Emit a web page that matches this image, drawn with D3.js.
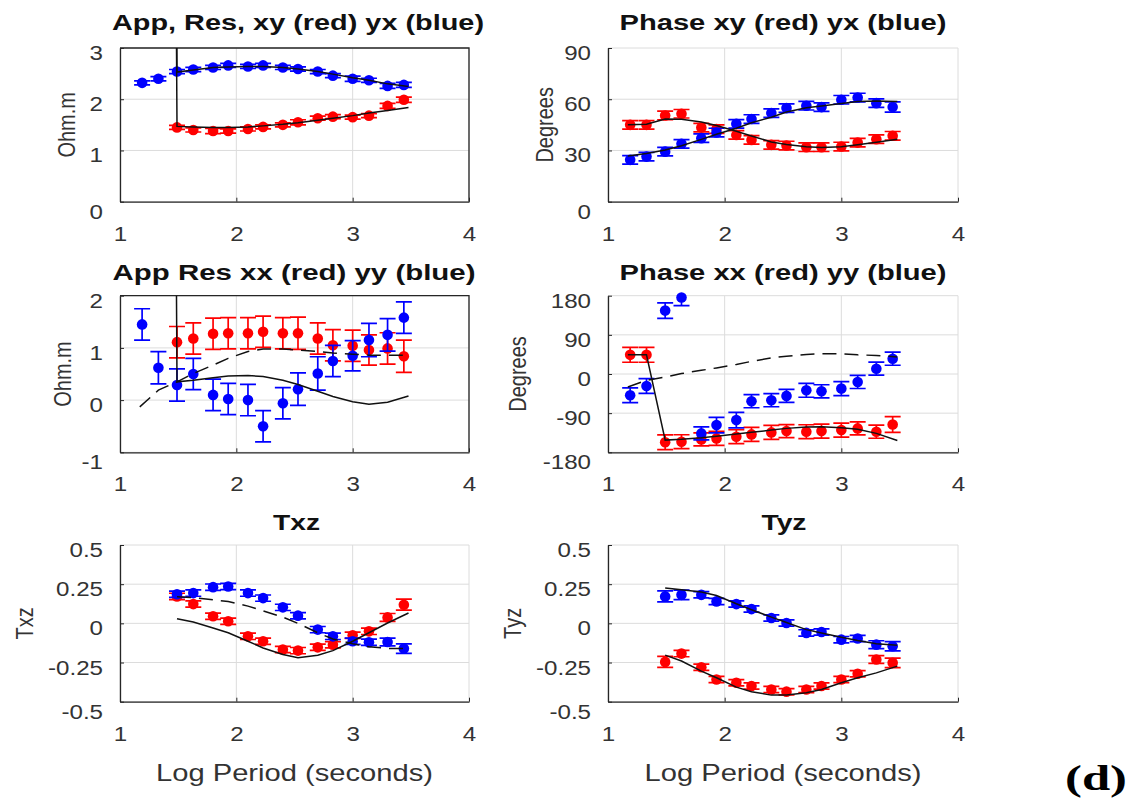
<!DOCTYPE html>
<html>
<head>
<meta charset="utf-8">
<script src="https://cdn.jsdelivr.net/npm/d3@7"></script>
<style>
  body { margin: 0; background: #fff; }
  svg { display: block; }
</style>
</head>
<body>
<svg id="fig" width="1129" height="804"></svg>
<script>
// ---- data ---------------------------------------------------------------
// log10 period (s) of the measured responses
const logPeriod   = [1.19, 1.33, 1.49, 1.63, 1.80, 1.93, 2.10, 2.23, 2.40, 2.53, 2.70, 2.83, 3.00, 3.14, 3.30, 3.44];
// log10 period (s) of the model response curves
const modelPeriod = [1.17, 1.33, 1.49, 1.63, 1.80, 1.93, 2.10, 2.23, 2.40, 2.53, 2.70, 2.83, 3.00, 3.14, 3.30, 3.48];

const xTicks = [1, 2, 3, 4];

// apparent resistivity, off-diagonal (log10 ohm.m)
const rhoXY    = [null, null, 1.45, 1.40, 1.38, 1.38, 1.42, 1.46, 1.50, 1.55, 1.63, 1.66, 1.65, 1.68, 1.87, 1.99];
const rhoXYErr = [null, null, 0.04, 0.04, 0.05, 0.04, 0.04, 0.04, 0.04, 0.05, 0.04, 0.04, 0.04, 0.04, 0.05, 0.05];
const rhoYX    = [2.32, 2.40, 2.54, 2.58, 2.62, 2.66, 2.64, 2.66, 2.62, 2.59, 2.54, 2.46, 2.40, 2.37, 2.26, 2.28];
const rhoYXErr = [0.04, 0.04, 0.04, 0.04, 0.04, 0.04, 0.04, 0.04, 0.04, 0.04, 0.04, 0.04, 0.05, 0.04, 0.05, 0.05];
const rhoXYModel = [60, 60, 1.47, 1.46, 1.45, 1.45, 1.46, 1.48, 1.51, 1.54, 1.59, 1.63, 1.68, 1.73, 1.78, 1.84];
const rhoYXModel = [60, 60, 2.53, 2.57, 2.62, 2.63, 2.64, 2.64, 2.62, 2.59, 2.54, 2.49, 2.42, 2.37, 2.30, 2.25];

// phase, off-diagonal (degrees)
const phiXY    = [45.0, 45.0, 50.5, 51.5, 43.4, 42.5, 39.1, 36.2, 33.3, 32.9, 31.9, 31.9, 32.3, 34.6, 36.6, 38.6];
const phiXYErr = [2.5, 2.5, 2.5, 2.5, 2.5, 2.5, 2.5, 2.5, 2.5, 2.5, 2.5, 2.5, 2.5, 2.5, 2.5, 2.5];
const phiYX    = [24.5, 26.4, 29.3, 33.9, 37.2, 40.5, 45.6, 48.4, 51.9, 54.8, 56.2, 55.4, 59.7, 61.0, 57.7, 55.4];
const phiYXErr = [2.5, 2.5, 2.5, 2.5, 2.5, 2.5, 2.5, 2.5, 2.5, 2.5, 2.5, 2.5, 2.5, 2.5, 2.5, 3.0];
const phiXYModel = [45.0, 45.3, 48.4, 48.3, 46.7, 44.6, 41.2, 38.5, 35.0, 33.5, 32.2, 31.7, 32.2, 33.3, 34.8, 36.6];
const phiYXModel = [26.8, 28.2, 30.3, 32.8, 36.5, 39.5, 43.0, 46.2, 49.5, 52.5, 55.0, 56.0, 57.5, 58.7, 59.0, 58.7];

// apparent resistivity, diagonal (log10 ohm.m)
const rhoXX    = [null, null, 1.11, 1.18, 1.27, 1.28, 1.28, 1.31, 1.28, 1.28, 1.18, 1.05, 1.04, 0.96, 0.99, 0.84];
const rhoXXErr = [null, null, 0.30, 0.30, 0.30, 0.30, 0.30, 0.30, 0.30, 0.31, 0.30, 0.30, 0.30, 0.29, 0.30, 0.31];
const rhoYY    = [1.45, 0.62, 0.29, 0.50, 0.10, 0.02, 0.00, -0.50, -0.06, 0.21, 0.51, 0.75, 0.85, 1.15, 1.25, 1.58];
const rhoYYErr = [0.30, 0.31, 0.31, 0.30, 0.30, 0.30, 0.30, 0.30, 0.30, 0.31, 0.32, 0.30, 0.29, 0.32, 0.31, 0.30];
const rhoXXModel = [60, 60, 0.35, 0.38, 0.43, 0.46, 0.47, 0.45, 0.38, 0.30, 0.17, 0.07, -0.03, -0.08, -0.04, 0.08];
const rhoYYModel = [-0.13, 0.19, 0.35, 0.51, 0.67, 0.80, 0.93, 0.98, 0.98, 0.96, 0.93, 0.90, 0.88, 0.86, 0.86, 0.86];

// phase, diagonal (degrees)
const phiXX    = [44, 44, -157, -155.6, -150.3, -148, -144.2, -138.8, -134.3, -131.2, -132.7, -131.2, -128.9, -125.1, -132.7, -116];
const phiXXErr = [17, 17, 17, 16, 15, 16, 16, 16, 16, 15, 16, 16, 16, 15, 15, 18];
const phiYY    = [-48.8, -27.5, 145.7, 176, -136.6, -117.5, -106, -62.6, -60.3, -50.4, -37.4, -39.7, -33.6, -18.3, 12.2, 35.1];
const phiYYErr = [17, 17, 18, 19, 15, 18, 18, 15, 15, 15, 16, 15, 16, 15, 15, 15];
const phiXXModel = [44, 44, -152, -150, -146.5, -143, -138, -134, -129, -125, -122, -121, -123.5, -127, -136.5, -153];
const phiYYModel = [-30, -14.5, -7, 1, 8.5, 14, 22, 29, 37, 41, 45, 46.5, 46.5, 44, 42.7, 39];

// tipper Txz
const txzRed     = [null, null, 0.172, 0.123, 0.045, 0.013, -0.083, -0.114, -0.167, -0.174, -0.153, -0.136, -0.076, -0.051, 0.038, 0.119];
const txzRedErr  = [null, null, 0.02, 0.02, 0.02, 0.02, 0.02, 0.02, 0.02, 0.02, 0.02, 0.02, 0.02, 0.02, 0.025, 0.035];
const txzBlue    = [null, null, 0.186, 0.193, 0.231, 0.235, 0.193, 0.161, 0.102, 0.049, -0.040, -0.083, -0.114, -0.121, -0.119, -0.161];
const txzBlueErr = [null, null, 0.02, 0.02, 0.02, 0.02, 0.02, 0.02, 0.02, 0.02, 0.02, 0.02, 0.02, 0.02, 0.025, 0.03];
const txzRedModel  = [null, null, 0.03, 0.008, -0.03, -0.06, -0.114, -0.157, -0.199, -0.22, -0.203, -0.174, -0.114, -0.06, 0.002, 0.066];
const txzBlueModel = [null, null, 0.17, 0.165, 0.15, 0.14, 0.11, 0.08, 0.04, 0.0, -0.06, -0.10, -0.13, -0.15, -0.16, -0.16];

// tipper Tyz
const tyzRed     = [null, null, -0.246, -0.193, -0.280, -0.358, -0.379, -0.400, -0.422, -0.436, -0.422, -0.400, -0.358, -0.322, -0.231, -0.252];
const tyzRedErr  = [null, null, 0.035, 0.02, 0.02, 0.02, 0.02, 0.02, 0.02, 0.02, 0.02, 0.02, 0.02, 0.02, 0.025, 0.03];
const tyzBlue    = [null, null, 0.172, 0.182, 0.182, 0.140, 0.123, 0.091, 0.034, 0.002, -0.061, -0.055, -0.104, -0.097, -0.136, -0.146];
const tyzBlueErr = [null, null, 0.035, 0.03, 0.02, 0.02, 0.02, 0.02, 0.02, 0.02, 0.02, 0.02, 0.02, 0.02, 0.025, 0.03];
const tyzRedModel  = [null, null, -0.203, -0.24, -0.305, -0.347, -0.407, -0.436, -0.458, -0.458, -0.443, -0.422, -0.379, -0.347, -0.316, -0.273];
const tyzBlueModel = [null, null, 0.225, 0.214, 0.2, 0.178, 0.125, 0.087, 0.04, 0.005, -0.04, -0.061, -0.089, -0.11, -0.13, -0.14];

// axis tick values and their labels
const rhoTicks  = [0, 1, 2, 3],            rhoTickLabels  = ["0", "1", "2", "3"];
const phiTicks  = [0, 30, 60, 90],         phiTickLabels  = ["0", "30", "60", "90"];
const rhoDTicks = [-1, 0, 1, 2],           rhoDTickLabels = ["-1", "0", "1", "2"];
const phiDTicks = [-180, -90, 0, 90, 180], phiDTickLabels = ["-180", "-90", "0", "90", "180"];
const tipTicks  = [-0.5, -0.25, 0, 0.25, 0.5], tipTickLabels = ["-0.5", "-0.25", "0", "0.25", "0.5"];

// ---- drawing ------------------------------------------------------------
const svg = d3.select("#fig");
svg.append("rect").attr("width", 1129).attr("height", 804).attr("fill", "#fff");

const FONT = "'Liberation Sans', Arial, Helvetica, sans-serif";
const SX = 1.15;            // horizontal widening of tick labels
const RED = "#ff0000", BLUE = "#0000ff";
const AXIS = "#262626", GRID = "#dcdcdc";

const cols = [{ left: 120, right: 469 }, { left: 608, right: 958 }];
const rows = [{ top: 48, bottom: 201.7 }, { top: 295.7, bottom: 452.3 }, { top: 545, bottom: 701.7 }];

const panels = [
  { col: 0, row: 0, title: "App, Res, xy (red) yx (blue)", titleW: 372, titleX: 298, titleY: 30,
    ylabel: "Ohm.m", ylabelX: 67, box: true, yDomain: [0, 3], yTicks: rhoTicks, yTickLabels: rhoTickLabels,
    red: [rhoXY, rhoXYErr], blue: [rhoYX, rhoYXErr],
    models: [{ v: rhoXYModel, dash: false }, { v: rhoYXModel, dash: false }] },
  { col: 1, row: 0, title: "Phase xy (red) yx (blue)", titleW: 327, titleX: 783, titleY: 30,
    ylabel: "Degrees", ylabelX: 545, box: false, yDomain: [0, 90], yTicks: phiTicks, yTickLabels: phiTickLabels,
    red: [phiXY, phiXYErr], blue: [phiYX, phiYXErr],
    models: [{ v: phiXYModel, dash: false }, { v: phiYXModel, dash: false }] },
  { col: 0, row: 1, title: "App Res xx (red) yy (blue)", titleW: 363, titleX: 294, titleY: 280,
    ylabel: "Ohm.m", ylabelX: 63, box: true, yDomain: [-1, 2], yTicks: rhoDTicks, yTickLabels: rhoDTickLabels,
    red: [rhoXX, rhoXXErr], blue: [rhoYY, rhoYYErr],
    models: [{ v: rhoXXModel, dash: false }, { v: rhoYYModel, dash: true }] },
  { col: 1, row: 1, title: "Phase xx (red) yy (blue)", titleW: 327, titleX: 783, titleY: 280,
    ylabel: "Degrees", ylabelX: 518, box: false, yDomain: [-180, 180], yTicks: phiDTicks, yTickLabels: phiDTickLabels,
    red: [phiXX, phiXXErr], blue: [phiYY, phiYYErr],
    models: [{ v: phiXXModel, dash: false }, { v: phiYYModel, dash: true }] },
  { col: 0, row: 2, title: "Txz", titleW: 47, titleX: 296.5, titleY: 530,
    ylabel: "Txz", ylabelX: 25, box: false, yDomain: [-0.5, 0.5], yTicks: tipTicks, yTickLabels: tipTickLabels,
    red: [txzRed, txzRedErr], blue: [txzBlue, txzBlueErr],
    models: [{ v: txzRedModel, dash: false }, { v: txzBlueModel, dash: true }] },
  { col: 1, row: 2, title: "Tyz", titleW: 45, titleX: 784, titleY: 530,
    ylabel: "Tyz", ylabelX: 513, box: false, yDomain: [-0.5, 0.5], yTicks: tipTicks, yTickLabels: tipTickLabels,
    red: [tyzRed, tyzRedErr], blue: [tyzBlue, tyzBlueErr],
    models: [{ v: tyzRedModel, dash: false }, { v: tyzBlueModel, dash: false }] }
];

panels.forEach((p, idx) => {
  const { left, right } = cols[p.col];
  const { top, bottom } = rows[p.row];
  const x = d3.scaleLinear().domain([1, 4]).range([left, right]);
  const y = d3.scaleLinear().domain(p.yDomain).range([bottom, top]);
  const g = svg.append("g");

  const clipId = "plot-clip-" + idx;
  svg.append("clipPath").attr("id", clipId).append("rect")
    .attr("x", left).attr("y", top).attr("width", right - left).attr("height", bottom - top);

  // grid lines
  g.append("g").selectAll("line").data(xTicks).join("line")
    .attr("x1", d => x(d)).attr("x2", d => x(d)).attr("y1", top).attr("y2", bottom)
    .attr("stroke", GRID).attr("stroke-width", 1);
  g.append("g").selectAll("line").data(p.yTicks).join("line")
    .attr("x1", left).attr("x2", right).attr("y1", d => y(d)).attr("y2", d => y(d))
    .attr("stroke", GRID).attr("stroke-width", 1);

  // closed box on some panels
  if (p.box) {
    g.append("path")
      .attr("d", `M${left},${top}H${right}V${bottom}`)
      .attr("fill", "none").attr("stroke", AXIS).attr("stroke-width", 1.3);
  }

  // x axis
  const xa = g.append("g").attr("transform", `translate(0,${bottom})`)
    .call(d3.axisBottom(x).tickValues(xTicks).tickFormat(d3.format("d")).tickSizeInner(-4).tickSizeOuter(0));
  xa.attr("font-family", FONT).attr("font-size", 21);
  xa.select(".domain").attr("stroke", AXIS).attr("stroke-width", 1.3);
  xa.selectAll(".tick line").attr("stroke", AXIS);
  xa.selectAll(".tick text").attr("y", 39).attr("dy", null)
    .attr("fill", "#333").attr("transform", `scale(${SX},1)`);

  // y axis
  const ya = g.append("g").attr("transform", `translate(${left},0)`)
    .call(d3.axisLeft(y).tickValues(p.yTicks).tickFormat((d, i) => p.yTickLabels[i]).tickSizeInner(-4).tickSizeOuter(0));
  ya.attr("font-family", FONT).attr("font-size", 21);
  ya.select(".domain").attr("stroke", AXIS).attr("stroke-width", 1.3);
  ya.selectAll(".tick line").attr("stroke", AXIS);
  ya.selectAll(".tick text").attr("x", -17 / SX).attr("dy", null)
    .attr("y", (d, i) => (i === 0 ? 16.5 : 11.5))
    .attr("fill", "#333").attr("transform", `scale(${SX},1)`);

  // data series: error bars and markers
  const cap = 8;
  [[p.red, RED], [p.blue, BLUE]].forEach(([[vals, errs], color]) => {
    const pts = vals.map((v, i) => ({ t: logPeriod[i], v, e: errs[i] })).filter(d => d.v != null);
    const eb = g.append("g").attr("clip-path", `url(#${clipId})`)
      .attr("stroke", color).attr("stroke-width", 1.7).attr("fill", "none");
    eb.selectAll("path").data(pts).join("path")
      .attr("d", d => {
        const cx = x(d.t), y1 = y(d.v + d.e), y2 = y(d.v - d.e);
        return `M${cx},${y1}V${y2}M${cx - cap},${y1}H${cx + cap}M${cx - cap},${y2}H${cx + cap}`;
      });
    g.append("g").selectAll("circle").data(pts).join("circle")
      .attr("cx", d => x(d.t)).attr("cy", d => y(d.v)).attr("r", 5.3).attr("fill", color);
  });

  // model response curves
  const line = d3.line()
    .defined(d => d[1] != null)
    .x(d => x(d[0])).y(d => y(d[1]));
  p.models.forEach(m => {
    g.append("path")
      .datum(modelPeriod.map((t, i) => [t, m.v[i]]))
      .attr("clip-path", `url(#${clipId})`)
      .attr("d", line)
      .attr("fill", "none").attr("stroke", "#111").attr("stroke-width", 1.5)
      .attr("stroke-dasharray", m.dash ? "14,8" : null);
  });

  // title
  g.append("text")
    .attr("x", p.titleX).attr("y", p.titleY)
    .attr("text-anchor", "middle")
    .attr("font-family", FONT).attr("font-weight", "bold").attr("font-size", 22)
    .attr("textLength", p.titleW).attr("lengthAdjust", "spacingAndGlyphs")
    .attr("fill", "#111")
    .text(p.title);

  // y-axis label (glyphs widened horizontally like the tick labels)
  g.append("text")
    .attr("transform", `translate(${p.ylabelX},${(top + bottom) / 2}) scale(1.2,1) rotate(-90)`)
    .attr("text-anchor", "middle").attr("dy", "0.35em")
    .attr("font-family", FONT).attr("font-size", 20).attr("fill", "#333")
    .text(p.ylabel);

  // x-axis label under the bottom row
  if (p.row === 2) {
    g.append("text")
      .attr("x", (left + right) / 2).attr("y", 781)
      .attr("text-anchor", "middle")
      .attr("font-family", FONT).attr("font-size", 24).attr("fill", "#333")
      .attr("textLength", 277).attr("lengthAdjust", "spacingAndGlyphs")
      .text("Log Period (seconds)");
  }
});

// figure tag
svg.append("text")
  .attr("x", 1065).attr("y", 790)
  .attr("font-family", "'Liberation Serif', 'Times New Roman', serif")
  .attr("font-weight", "bold").attr("font-size", 36).attr("fill", "#000")
  .attr("textLength", 62).attr("lengthAdjust", "spacingAndGlyphs")
  .text("(d)");
</script>
</body>
</html>
